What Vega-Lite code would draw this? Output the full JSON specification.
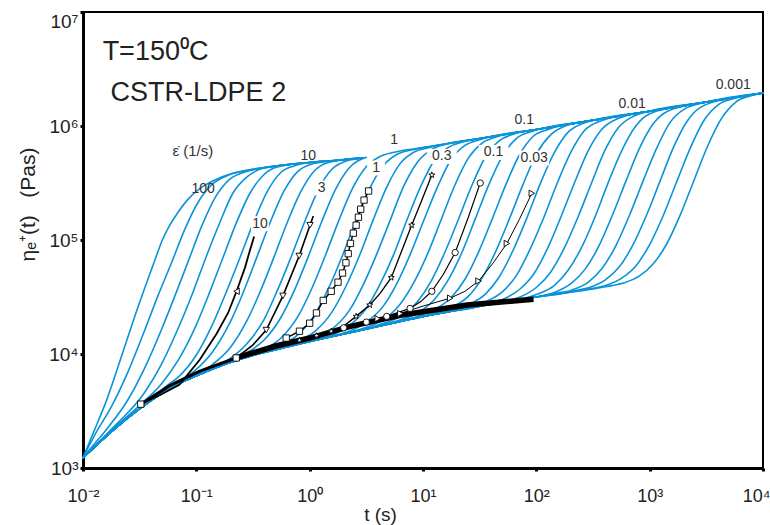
{
"$schema":"https://vega.github.io/schema/vega-lite/v6.json",
"width":680,"height":456,
"autosize":{"type":"none"},
"padding":{"left":83,"top":12,"right":7,"bottom":57},
"background":"white",
"config":{"view":{"stroke":"black","strokeWidth":2},"font":"Liberation Sans",
"axis":{"grid":false,"domainColor":"black","domainWidth":3,"tickColor":"black","tickWidth":3,"tickSize":3,"labelColor":"#222","titleColor":"#222","titleFontWeight":"normal","labelFont":"Liberation Sans","titleFont":"Liberation Sans"}},
"encoding":{
"x":{"field":"lt","type":"quantitative","scale":{"domain":[-2,4],"nice":false,"zero":false},
"axis":{"values":[-2,-1,0,1,2,3,4],"labelExpr":"datum.value == -2 ? '10⁻²' : datum.value == -1 ? '10⁻¹' : datum.value == 0 ? '10⁰' : datum.value == 1 ? '10¹' : datum.value == 2 ? '10²' : datum.value == 3 ? '10³' : '10⁴'","title":"t (s)","titleFontSize":19,"titleX":297,"titleY":52,"titleAlign":"center","titleBaseline":"alphabetic","labelFontSize":18,"labelPadding":16,"labelFlush":false,"labelOverlap":false,"labelBound":false,"labelOffset":{"condition":{"test":"datum.value == 4","value":-7},"value":0}}},
"y":{"field":"le","type":"quantitative","scale":{"domain":[3,7],"nice":false,"zero":false},
"axis":{"values":[3,4,5,6,7],"labelExpr":"datum.value == 3 ? '10³' : datum.value == 4 ? '10⁴' : datum.value == 5 ? '10⁵' : datum.value == 6 ? '10⁶' : '10⁷'","title":"ηₑ⁺(t)\u00a0\u00a0\u00a0(Pas)","titleFontSize":21,"titleX":-55,"titleY":192,"titleAngle":270,"titleAlign":"center","titleBaseline":"middle","labelFontSize":19,"labelPadding":2,"labelFlush":false,"labelOverlap":false,"labelOffset":{"condition":{"test":"datum.value == 7","value":9},"value":0}}}
},
"layer":[
{"data":{"values":[
{"c":0,"lt":-2,"le":3.09},{"c":0,"lt":-1.9,"le":3.33},{"c":0,"lt":-1.79,"le":3.6},{"c":0,"lt":-1.65,"le":4.01},{"c":0,"lt":-1.55,"le":4.31},{"c":0,"lt":-1.44,"le":4.62},{"c":0,"lt":-1.36,"le":4.84},{"c":0,"lt":-1.3,"le":5.0},{"c":0,"lt":-1.24,"le":5.12},{"c":0,"lt":-1.17,"le":5.23},{"c":0,"lt":-1.08,"le":5.35},{"c":0,"lt":-0.97,"le":5.45},{"c":0,"lt":-0.85,"le":5.52},{"c":0,"lt":-0.68,"le":5.585},{"c":0,"lt":-0.5,"le":5.62},{"c":0,"lt":-0.25,"le":5.655},{"c":0,"lt":0,"le":5.68},{"c":0,"lt":0.25,"le":5.7},{"c":0,"lt":0.47,"le":5.72},
{"c":1,"lt":-2,"le":3.09},{"c":1,"lt":-1.88,"le":3.32},{"c":1,"lt":-1.759,"le":3.52},{"c":1,"lt":-1.609,"le":3.83},{"c":1,"lt":-1.459,"le":4.2},{"c":1,"lt":-1.339,"le":4.51},{"c":1,"lt":-1.219,"le":4.8},{"c":1,"lt":-1.099,"le":5.1},{"c":1,"lt":-0.979,"le":5.34},{"c":1,"lt":-0.859,"le":5.49},{"c":1,"lt":-0.739,"le":5.56},{"c":1,"lt":-0.5,"le":5.62},{"c":1,"lt":-0.25,"le":5.655},{"c":1,"lt":0,"le":5.68},{"c":1,"lt":0.25,"le":5.7},{"c":1,"lt":0.47,"le":5.72},
{"c":2,"lt":-2,"le":3.09},{"c":2,"lt":-1.9,"le":3.21},{"c":2,"lt":-1.8,"le":3.33},{"c":2,"lt":-1.609,"le":3.59},{"c":2,"lt":-1.459,"le":3.87},{"c":2,"lt":-1.309,"le":4.21},{"c":2,"lt":-1.189,"le":4.51},{"c":2,"lt":-1.069,"le":4.82},{"c":2,"lt":-0.949,"le":5.13},{"c":2,"lt":-0.829,"le":5.38},{"c":2,"lt":-0.709,"le":5.53},{"c":2,"lt":-0.589,"le":5.59},{"c":2,"lt":-0.5,"le":5.615},{"c":2,"lt":-0.25,"le":5.655},{"c":2,"lt":0,"le":5.68},{"c":2,"lt":0.25,"le":5.7},{"c":2,"lt":0.47,"le":5.72},
{"c":3,"lt":-2,"le":3.09},{"c":3,"lt":-1.75,"le":3.34},{"c":3,"lt":-1.458,"le":3.66},{"c":3,"lt":-1.308,"le":3.91},{"c":3,"lt":-1.158,"le":4.23},{"c":3,"lt":-1.038,"le":4.52},{"c":3,"lt":-0.918,"le":4.84},{"c":3,"lt":-0.798,"le":5.14},{"c":3,"lt":-0.678,"le":5.41},{"c":3,"lt":-0.558,"le":5.55},{"c":3,"lt":-0.438,"le":5.62},{"c":3,"lt":-0.25,"le":5.655},{"c":3,"lt":0,"le":5.68},{"c":3,"lt":0.25,"le":5.7},{"c":3,"lt":0.47,"le":5.72},
{"c":4,"lt":-2,"le":3.09},{"c":4,"lt":-1.75,"le":3.33},{"c":4,"lt":-1.5,"le":3.55},{"c":4,"lt":-1.307,"le":3.74},{"c":4,"lt":-1.157,"le":3.95},{"c":4,"lt":-1.007,"le":4.24},{"c":4,"lt":-0.887,"le":4.53},{"c":4,"lt":-0.767,"le":4.84},{"c":4,"lt":-0.647,"le":5.15},{"c":4,"lt":-0.527,"le":5.41},{"c":4,"lt":-0.407,"le":5.57},{"c":4,"lt":-0.287,"le":5.64},{"c":4,"lt":0,"le":5.68},{"c":4,"lt":0.25,"le":5.7},{"c":4,"lt":0.47,"le":5.72},
{"c":5,"lt":-2,"le":3.09},{"c":5,"lt":-1.75,"le":3.32},{"c":5,"lt":-1.5,"le":3.52},{"c":5,"lt":-1.25,"le":3.73},{"c":5,"lt":-1.157,"le":3.8},{"c":5,"lt":-1.007,"le":3.98},{"c":5,"lt":-0.857,"le":4.26},{"c":5,"lt":-0.737,"le":4.54},{"c":5,"lt":-0.617,"le":4.84},{"c":5,"lt":-0.497,"le":5.15},{"c":5,"lt":-0.377,"le":5.42},{"c":5,"lt":-0.257,"le":5.59},{"c":5,"lt":-0.137,"le":5.65},{"c":5,"lt":0,"le":5.68},{"c":5,"lt":0.25,"le":5.7},{"c":5,"lt":0.47,"le":5.72},
{"c":6,"lt":-2,"le":3.09},{"c":6,"lt":-1.75,"le":3.32},{"c":6,"lt":-1.5,"le":3.52},{"c":6,"lt":-1.25,"le":3.69},{"c":6,"lt":-1.156,"le":3.75},{"c":6,"lt":-1.006,"le":3.86},{"c":6,"lt":-0.856,"le":4.02},{"c":6,"lt":-0.706,"le":4.27},{"c":6,"lt":-0.586,"le":4.54},{"c":6,"lt":-0.466,"le":4.85},{"c":6,"lt":-0.346,"le":5.16},{"c":6,"lt":-0.226,"le":5.43},{"c":6,"lt":-0.106,"le":5.6},{"c":6,"lt":0.014,"le":5.665},{"c":6,"lt":0.25,"le":5.7},{"c":6,"lt":0.47,"le":5.72},
{"c":7,"lt":-2,"le":3.09},{"c":7,"lt":-1.75,"le":3.32},{"c":7,"lt":-1.5,"le":3.52},{"c":7,"lt":-1.25,"le":3.69},{"c":7,"lt":-1.005,"le":3.82},{"c":7,"lt":-0.855,"le":3.91},{"c":7,"lt":-0.705,"le":4.05},{"c":7,"lt":-0.555,"le":4.29},{"c":7,"lt":-0.435,"le":4.55},{"c":7,"lt":-0.315,"le":4.85},{"c":7,"lt":-0.195,"le":5.16},{"c":7,"lt":-0.075,"le":5.43},{"c":7,"lt":0.045,"le":5.61},{"c":7,"lt":0.165,"le":5.68},{"c":7,"lt":0.47,"le":5.72},
{"c":8,"lt":-2,"le":3.09},{"c":8,"lt":-1.75,"le":3.32},{"c":8,"lt":-1.5,"le":3.52},{"c":8,"lt":-1.25,"le":3.69},{"c":8,"lt":-1,"le":3.81},{"c":8,"lt":-0.854,"le":3.88},{"c":8,"lt":-0.704,"le":3.96},{"c":8,"lt":-0.554,"le":4.09},{"c":8,"lt":-0.404,"le":4.3},{"c":8,"lt":-0.284,"le":4.56},{"c":8,"lt":-0.164,"le":4.85},{"c":8,"lt":-0.044,"le":5.16},{"c":8,"lt":0.076,"le":5.44},{"c":8,"lt":0.196,"le":5.62},{"c":8,"lt":0.316,"le":5.69},{"c":8,"lt":0.47,"le":5.72},
{"c":9,"lt":-2,"le":3.09},{"c":9,"lt":-1.75,"le":3.32},{"c":9,"lt":-1.5,"le":3.52},{"c":9,"lt":-1.25,"le":3.69},{"c":9,"lt":-1,"le":3.81},{"c":9,"lt":-0.75,"le":3.91},{"c":9,"lt":-0.554,"le":4.01},{"c":9,"lt":-0.404,"le":4.12},{"c":9,"lt":-0.254,"le":4.32},{"c":9,"lt":-0.134,"le":4.56},{"c":9,"lt":-0.014,"le":4.85},{"c":9,"lt":0.106,"le":5.16},{"c":9,"lt":0.226,"le":5.44},{"c":9,"lt":0.346,"le":5.63},{"c":9,"lt":0.5,"le":5.725},
{"c":10,"lt":-2,"le":3.09},{"c":10,"lt":-1.75,"le":3.32},{"c":10,"lt":-1.5,"le":3.52},{"c":10,"lt":-1.25,"le":3.69},{"c":10,"lt":-1,"le":3.81},{"c":10,"lt":-0.75,"le":3.91},{"c":10,"lt":-0.553,"le":3.98},{"c":10,"lt":-0.403,"le":4.04},{"c":10,"lt":-0.253,"le":4.14},{"c":10,"lt":-0.103,"le":4.33},{"c":10,"lt":0.017,"le":4.57},{"c":10,"lt":0.137,"le":4.86},{"c":10,"lt":0.257,"le":5.17},{"c":10,"lt":0.377,"le":5.45},{"c":10,"lt":0.497,"le":5.64},{"c":10,"lt":0.617,"le":5.73},{"c":10,"lt":0.747,"le":5.77},{"c":10,"lt":1,"le":5.81},{"c":10,"lt":1.5,"le":5.89},{"c":10,"lt":2,"le":5.97},{"c":10,"lt":2.5,"le":6.05},{"c":10,"lt":3,"le":6.13},{"c":10,"lt":3.5,"le":6.21},{"c":10,"lt":4,"le":6.29},
{"c":11,"lt":-2,"le":3.09},{"c":11,"lt":-1.75,"le":3.32},{"c":11,"lt":-1.5,"le":3.52},{"c":11,"lt":-1.25,"le":3.69},{"c":11,"lt":-1,"le":3.81},{"c":11,"lt":-0.75,"le":3.91},{"c":11,"lt":-0.5,"le":3.99},{"c":11,"lt":-0.402,"le":4.02},{"c":11,"lt":-0.252,"le":4.08},{"c":11,"lt":-0.102,"le":4.17},{"c":11,"lt":0.048,"le":4.35},{"c":11,"lt":0.168,"le":4.58},{"c":11,"lt":0.288,"le":4.86},{"c":11,"lt":0.408,"le":5.17},{"c":11,"lt":0.528,"le":5.45},{"c":11,"lt":0.648,"le":5.65},{"c":11,"lt":0.768,"le":5.75},{"c":11,"lt":0.898,"le":5.79},{"c":11,"lt":1,"le":5.81},{"c":11,"lt":1.5,"le":5.89},{"c":11,"lt":2,"le":5.97},{"c":11,"lt":2.5,"le":6.05},{"c":11,"lt":3,"le":6.13},{"c":11,"lt":3.5,"le":6.21},{"c":11,"lt":4,"le":6.29},
{"c":12,"lt":-2,"le":3.09},{"c":12,"lt":-1.75,"le":3.32},{"c":12,"lt":-1.5,"le":3.52},{"c":12,"lt":-1.25,"le":3.69},{"c":12,"lt":-1,"le":3.81},{"c":12,"lt":-0.75,"le":3.91},{"c":12,"lt":-0.5,"le":3.99},{"c":12,"lt":-0.25,"le":4.05},{"c":12,"lt":-0.102,"le":4.11},{"c":12,"lt":0.048,"le":4.2},{"c":12,"lt":0.198,"le":4.37},{"c":12,"lt":0.318,"le":4.59},{"c":12,"lt":0.438,"le":4.86},{"c":12,"lt":0.558,"le":5.17},{"c":12,"lt":0.678,"le":5.46},{"c":12,"lt":0.798,"le":5.67},{"c":12,"lt":0.918,"le":5.77},{"c":12,"lt":1.048,"le":5.81},{"c":12,"lt":1.5,"le":5.89},{"c":12,"lt":2,"le":5.97},{"c":12,"lt":2.5,"le":6.05},{"c":12,"lt":3,"le":6.13},{"c":12,"lt":3.5,"le":6.21},{"c":12,"lt":4,"le":6.29},
{"c":13,"lt":-2,"le":3.09},{"c":13,"lt":-1.75,"le":3.32},{"c":13,"lt":-1.5,"le":3.52},{"c":13,"lt":-1.25,"le":3.69},{"c":13,"lt":-1,"le":3.81},{"c":13,"lt":-0.75,"le":3.91},{"c":13,"lt":-0.5,"le":3.99},{"c":13,"lt":-0.25,"le":4.05},{"c":13,"lt":-0.101,"le":4.09},{"c":13,"lt":0.049,"le":4.14},{"c":13,"lt":0.199,"le":4.22},{"c":13,"lt":0.349,"le":4.38},{"c":13,"lt":0.469,"le":4.6},{"c":13,"lt":0.589,"le":4.87},{"c":13,"lt":0.709,"le":5.17},{"c":13,"lt":0.829,"le":5.47},{"c":13,"lt":0.949,"le":5.68},{"c":13,"lt":1.069,"le":5.79},{"c":13,"lt":1.199,"le":5.84},{"c":13,"lt":1.5,"le":5.89},{"c":13,"lt":2,"le":5.97},{"c":13,"lt":2.5,"le":6.05},{"c":13,"lt":3,"le":6.13},{"c":13,"lt":3.5,"le":6.21},{"c":13,"lt":4,"le":6.29},
{"c":14,"lt":-2,"le":3.09},{"c":14,"lt":-1.75,"le":3.32},{"c":14,"lt":-1.5,"le":3.52},{"c":14,"lt":-1.25,"le":3.69},{"c":14,"lt":-1,"le":3.81},{"c":14,"lt":-0.75,"le":3.91},{"c":14,"lt":-0.5,"le":3.99},{"c":14,"lt":-0.25,"le":4.05},{"c":14,"lt":0,"le":4.11},{"c":14,"lt":0.2,"le":4.17},{"c":14,"lt":0.35,"le":4.25},{"c":14,"lt":0.5,"le":4.4},{"c":14,"lt":0.62,"le":4.61},{"c":14,"lt":0.74,"le":4.87},{"c":14,"lt":0.86,"le":5.18},{"c":14,"lt":0.98,"le":5.47},{"c":14,"lt":1.1,"le":5.7},{"c":14,"lt":1.22,"le":5.81},{"c":14,"lt":1.35,"le":5.86},{"c":14,"lt":1.5,"le":5.89},{"c":14,"lt":2,"le":5.97},{"c":14,"lt":2.5,"le":6.05},{"c":14,"lt":3,"le":6.13},{"c":14,"lt":3.5,"le":6.21},{"c":14,"lt":4,"le":6.29},
{"c":15,"lt":-2,"le":3.09},{"c":15,"lt":-1.75,"le":3.32},{"c":15,"lt":-1.5,"le":3.52},{"c":15,"lt":-1.25,"le":3.69},{"c":15,"lt":-1,"le":3.81},{"c":15,"lt":-0.75,"le":3.91},{"c":15,"lt":-0.5,"le":3.99},{"c":15,"lt":-0.25,"le":4.05},{"c":15,"lt":0,"le":4.11},{"c":15,"lt":0.2,"le":4.16},{"c":15,"lt":0.35,"le":4.2},{"c":15,"lt":0.5,"le":4.28},{"c":15,"lt":0.65,"le":4.42},{"c":15,"lt":0.77,"le":4.62},{"c":15,"lt":0.89,"le":4.88},{"c":15,"lt":1.01,"le":5.18},{"c":15,"lt":1.13,"le":5.47},{"c":15,"lt":1.25,"le":5.71},{"c":15,"lt":1.37,"le":5.83},{"c":15,"lt":1.5,"le":5.88},{"c":15,"lt":2,"le":5.97},{"c":15,"lt":2.5,"le":6.05},{"c":15,"lt":3,"le":6.13},{"c":15,"lt":3.5,"le":6.21},{"c":15,"lt":4,"le":6.29},
{"c":16,"lt":-2,"le":3.09},{"c":16,"lt":-1.75,"le":3.32},{"c":16,"lt":-1.5,"le":3.52},{"c":16,"lt":-1.25,"le":3.69},{"c":16,"lt":-1,"le":3.81},{"c":16,"lt":-0.75,"le":3.91},{"c":16,"lt":-0.5,"le":3.99},{"c":16,"lt":-0.25,"le":4.05},{"c":16,"lt":0,"le":4.11},{"c":16,"lt":0.25,"le":4.165},{"c":16,"lt":0.351,"le":4.19},{"c":16,"lt":0.501,"le":4.235},{"c":16,"lt":0.651,"le":4.3},{"c":16,"lt":0.801,"le":4.44},{"c":16,"lt":0.921,"le":4.63},{"c":16,"lt":1.041,"le":4.88},{"c":16,"lt":1.161,"le":5.18},{"c":16,"lt":1.281,"le":5.48},{"c":16,"lt":1.401,"le":5.72},{"c":16,"lt":1.521,"le":5.85},{"c":16,"lt":1.651,"le":5.905},{"c":16,"lt":2,"le":5.97},{"c":16,"lt":2.5,"le":6.05},{"c":16,"lt":3,"le":6.13},{"c":16,"lt":3.5,"le":6.21},{"c":16,"lt":4,"le":6.29},
{"c":17,"lt":-2,"le":3.09},{"c":17,"lt":-1.75,"le":3.32},{"c":17,"lt":-1.5,"le":3.52},{"c":17,"lt":-1.25,"le":3.69},{"c":17,"lt":-1,"le":3.81},{"c":17,"lt":-0.75,"le":3.91},{"c":17,"lt":-0.5,"le":3.99},{"c":17,"lt":-0.25,"le":4.05},{"c":17,"lt":0,"le":4.11},{"c":17,"lt":0.25,"le":4.165},{"c":17,"lt":0.5,"le":4.22},{"c":17,"lt":0.652,"le":4.27},{"c":17,"lt":0.802,"le":4.33},{"c":17,"lt":0.952,"le":4.46},{"c":17,"lt":1.072,"le":4.64},{"c":17,"lt":1.192,"le":4.89},{"c":17,"lt":1.312,"le":5.18},{"c":17,"lt":1.432,"le":5.48},{"c":17,"lt":1.552,"le":5.73},{"c":17,"lt":1.672,"le":5.87},{"c":17,"lt":1.802,"le":5.93},{"c":17,"lt":2,"le":5.97},{"c":17,"lt":2.5,"le":6.05},{"c":17,"lt":3,"le":6.13},{"c":17,"lt":3.5,"le":6.21},{"c":17,"lt":4,"le":6.29},
{"c":18,"lt":-2,"le":3.09},{"c":18,"lt":-1.75,"le":3.32},{"c":18,"lt":-1.5,"le":3.52},{"c":18,"lt":-1.25,"le":3.69},{"c":18,"lt":-1,"le":3.81},{"c":18,"lt":-0.75,"le":3.91},{"c":18,"lt":-0.5,"le":3.99},{"c":18,"lt":-0.25,"le":4.05},{"c":18,"lt":0,"le":4.11},{"c":18,"lt":0.25,"le":4.165},{"c":18,"lt":0.5,"le":4.22},{"c":18,"lt":0.653,"le":4.26},{"c":18,"lt":0.803,"le":4.3},{"c":18,"lt":0.953,"le":4.36},{"c":18,"lt":1.103,"le":4.48},{"c":18,"lt":1.223,"le":4.65},{"c":18,"lt":1.343,"le":4.89},{"c":18,"lt":1.463,"le":5.19},{"c":18,"lt":1.583,"le":5.49},{"c":18,"lt":1.703,"le":5.74},{"c":18,"lt":1.823,"le":5.89},{"c":18,"lt":1.953,"le":5.95},{"c":18,"lt":2.5,"le":6.05},{"c":18,"lt":3,"le":6.13},{"c":18,"lt":3.5,"le":6.21},{"c":18,"lt":4,"le":6.29},
{"c":19,"lt":-2,"le":3.09},{"c":19,"lt":-1.75,"le":3.32},{"c":19,"lt":-1.5,"le":3.52},{"c":19,"lt":-1.25,"le":3.69},{"c":19,"lt":-1,"le":3.81},{"c":19,"lt":-0.75,"le":3.91},{"c":19,"lt":-0.5,"le":3.99},{"c":19,"lt":-0.25,"le":4.05},{"c":19,"lt":0,"le":4.11},{"c":19,"lt":0.25,"le":4.165},{"c":19,"lt":0.5,"le":4.22},{"c":19,"lt":0.75,"le":4.275},{"c":19,"lt":0.953,"le":4.33},{"c":19,"lt":1.103,"le":4.39},{"c":19,"lt":1.253,"le":4.5},{"c":19,"lt":1.373,"le":4.66},{"c":19,"lt":1.493,"le":4.9},{"c":19,"lt":1.613,"le":5.19},{"c":19,"lt":1.733,"le":5.49},{"c":19,"lt":1.853,"le":5.75},{"c":19,"lt":1.973,"le":5.91},{"c":19,"lt":2.103,"le":5.97},{"c":19,"lt":2.5,"le":6.05},{"c":19,"lt":3,"le":6.13},{"c":19,"lt":3.5,"le":6.21},{"c":19,"lt":4,"le":6.29},
{"c":20,"lt":-2,"le":3.09},{"c":20,"lt":-1.75,"le":3.32},{"c":20,"lt":-1.5,"le":3.52},{"c":20,"lt":-1.25,"le":3.69},{"c":20,"lt":-1,"le":3.81},{"c":20,"lt":-0.75,"le":3.91},{"c":20,"lt":-0.5,"le":3.99},{"c":20,"lt":-0.25,"le":4.05},{"c":20,"lt":0,"le":4.11},{"c":20,"lt":0.25,"le":4.165},{"c":20,"lt":0.5,"le":4.22},{"c":20,"lt":0.75,"le":4.275},{"c":20,"lt":1,"le":4.33},{"c":20,"lt":1.104,"le":4.36},{"c":20,"lt":1.254,"le":4.41},{"c":20,"lt":1.404,"le":4.51},{"c":20,"lt":1.524,"le":4.67},{"c":20,"lt":1.644,"le":4.905},{"c":20,"lt":1.764,"le":5.19},{"c":20,"lt":1.884,"le":5.49},{"c":20,"lt":2.004,"le":5.76},{"c":20,"lt":2.124,"le":5.92},{"c":20,"lt":2.254,"le":6},{"c":20,"lt":2.5,"le":6.05},{"c":20,"lt":3,"le":6.13},{"c":20,"lt":3.5,"le":6.21},{"c":20,"lt":4,"le":6.29},
{"c":21,"lt":-2,"le":3.09},{"c":21,"lt":-1.75,"le":3.32},{"c":21,"lt":-1.5,"le":3.52},{"c":21,"lt":-1.25,"le":3.69},{"c":21,"lt":-1,"le":3.81},{"c":21,"lt":-0.75,"le":3.91},{"c":21,"lt":-0.5,"le":3.99},{"c":21,"lt":-0.25,"le":4.05},{"c":21,"lt":0,"le":4.11},{"c":21,"lt":0.25,"le":4.165},{"c":21,"lt":0.5,"le":4.22},{"c":21,"lt":0.75,"le":4.275},{"c":21,"lt":1,"le":4.33},{"c":21,"lt":1.255,"le":4.385},{"c":21,"lt":1.405,"le":4.435},{"c":21,"lt":1.555,"le":4.53},{"c":21,"lt":1.675,"le":4.68},{"c":21,"lt":1.795,"le":4.91},{"c":21,"lt":1.915,"le":5.19},{"c":21,"lt":2.035,"le":5.495},{"c":21,"lt":2.155,"le":5.76},{"c":21,"lt":2.275,"le":5.94},{"c":21,"lt":2.405,"le":6.02},{"c":21,"lt":3,"le":6.13},{"c":21,"lt":3.5,"le":6.21},{"c":21,"lt":4,"le":6.29},
{"c":22,"lt":-2,"le":3.09},{"c":22,"lt":-1.75,"le":3.32},{"c":22,"lt":-1.5,"le":3.52},{"c":22,"lt":-1.25,"le":3.69},{"c":22,"lt":-1,"le":3.81},{"c":22,"lt":-0.75,"le":3.91},{"c":22,"lt":-0.5,"le":3.99},{"c":22,"lt":-0.25,"le":4.05},{"c":22,"lt":0,"le":4.11},{"c":22,"lt":0.25,"le":4.165},{"c":22,"lt":0.5,"le":4.22},{"c":22,"lt":0.75,"le":4.275},{"c":22,"lt":1,"le":4.33},{"c":22,"lt":1.25,"le":4.375},{"c":22,"lt":1.405,"le":4.41},{"c":22,"lt":1.555,"le":4.46},{"c":22,"lt":1.705,"le":4.55},{"c":22,"lt":1.825,"le":4.69},{"c":22,"lt":1.945,"le":4.92},{"c":22,"lt":2.065,"le":5.195},{"c":22,"lt":2.185,"le":5.5},{"c":22,"lt":2.305,"le":5.77},{"c":22,"lt":2.425,"le":5.96},{"c":22,"lt":2.555,"le":6.04},{"c":22,"lt":3,"le":6.13},{"c":22,"lt":3.5,"le":6.21},{"c":22,"lt":4,"le":6.29},
{"c":23,"lt":-2,"le":3.09},{"c":23,"lt":-1.75,"le":3.32},{"c":23,"lt":-1.5,"le":3.52},{"c":23,"lt":-1.25,"le":3.69},{"c":23,"lt":-1,"le":3.81},{"c":23,"lt":-0.75,"le":3.91},{"c":23,"lt":-0.5,"le":3.99},{"c":23,"lt":-0.25,"le":4.05},{"c":23,"lt":0,"le":4.11},{"c":23,"lt":0.25,"le":4.165},{"c":23,"lt":0.5,"le":4.22},{"c":23,"lt":0.75,"le":4.275},{"c":23,"lt":1,"le":4.33},{"c":23,"lt":1.25,"le":4.375},{"c":23,"lt":1.5,"le":4.42},{"c":23,"lt":1.556,"le":4.44},{"c":23,"lt":1.706,"le":4.48},{"c":23,"lt":1.856,"le":4.57},{"c":23,"lt":1.976,"le":4.7},{"c":23,"lt":2.096,"le":4.92},{"c":23,"lt":2.216,"le":5.2},{"c":23,"lt":2.336,"le":5.5},{"c":23,"lt":2.456,"le":5.78},{"c":23,"lt":2.576,"le":5.97},{"c":23,"lt":2.706,"le":6.06},{"c":23,"lt":3,"le":6.13},{"c":23,"lt":3.5,"le":6.21},{"c":23,"lt":4,"le":6.29},
{"c":24,"lt":-2,"le":3.09},{"c":24,"lt":-1.75,"le":3.32},{"c":24,"lt":-1.5,"le":3.52},{"c":24,"lt":-1.25,"le":3.69},{"c":24,"lt":-1,"le":3.81},{"c":24,"lt":-0.75,"le":3.91},{"c":24,"lt":-0.5,"le":3.99},{"c":24,"lt":-0.25,"le":4.05},{"c":24,"lt":0,"le":4.11},{"c":24,"lt":0.25,"le":4.165},{"c":24,"lt":0.5,"le":4.22},{"c":24,"lt":0.75,"le":4.275},{"c":24,"lt":1,"le":4.33},{"c":24,"lt":1.25,"le":4.375},{"c":24,"lt":1.5,"le":4.42},{"c":24,"lt":1.707,"le":4.46},{"c":24,"lt":1.857,"le":4.5},{"c":24,"lt":2.007,"le":4.59},{"c":24,"lt":2.127,"le":4.72},{"c":24,"lt":2.247,"le":4.93},{"c":24,"lt":2.367,"le":5.2},{"c":24,"lt":2.487,"le":5.5},{"c":24,"lt":2.607,"le":5.79},{"c":24,"lt":2.727,"le":5.99},{"c":24,"lt":2.857,"le":6.085},{"c":24,"lt":3,"le":6.13},{"c":24,"lt":3.5,"le":6.21},{"c":24,"lt":4,"le":6.29},
{"c":25,"lt":-2,"le":3.09},{"c":25,"lt":-1.75,"le":3.32},{"c":25,"lt":-1.5,"le":3.52},{"c":25,"lt":-1.25,"le":3.69},{"c":25,"lt":-1,"le":3.81},{"c":25,"lt":-0.75,"le":3.91},{"c":25,"lt":-0.5,"le":3.99},{"c":25,"lt":-0.25,"le":4.05},{"c":25,"lt":0,"le":4.11},{"c":25,"lt":0.25,"le":4.165},{"c":25,"lt":0.5,"le":4.22},{"c":25,"lt":0.75,"le":4.275},{"c":25,"lt":1,"le":4.33},{"c":25,"lt":1.25,"le":4.375},{"c":25,"lt":1.5,"le":4.42},{"c":25,"lt":1.75,"le":4.46},{"c":25,"lt":1.857,"le":4.48},{"c":25,"lt":2.007,"le":4.525},{"c":25,"lt":2.157,"le":4.6},{"c":25,"lt":2.277,"le":4.73},{"c":25,"lt":2.397,"le":4.93},{"c":25,"lt":2.517,"le":5.2},{"c":25,"lt":2.637,"le":5.51},{"c":25,"lt":2.757,"le":5.79},{"c":25,"lt":2.877,"le":6},{"c":25,"lt":3.007,"le":6.11},{"c":25,"lt":3.5,"le":6.21},{"c":25,"lt":4,"le":6.29},
{"c":26,"lt":-2,"le":3.09},{"c":26,"lt":-1.75,"le":3.32},{"c":26,"lt":-1.5,"le":3.52},{"c":26,"lt":-1.25,"le":3.69},{"c":26,"lt":-1,"le":3.81},{"c":26,"lt":-0.75,"le":3.91},{"c":26,"lt":-0.5,"le":3.99},{"c":26,"lt":-0.25,"le":4.05},{"c":26,"lt":0,"le":4.11},{"c":26,"lt":0.25,"le":4.165},{"c":26,"lt":0.5,"le":4.22},{"c":26,"lt":0.75,"le":4.275},{"c":26,"lt":1,"le":4.33},{"c":26,"lt":1.25,"le":4.375},{"c":26,"lt":1.5,"le":4.42},{"c":26,"lt":1.75,"le":4.46},{"c":26,"lt":2,"le":4.5},{"c":26,"lt":2.158,"le":4.54},{"c":26,"lt":2.308,"le":4.62},{"c":26,"lt":2.428,"le":4.74},{"c":26,"lt":2.548,"le":4.94},{"c":26,"lt":2.668,"le":5.21},{"c":26,"lt":2.788,"le":5.51},{"c":26,"lt":2.908,"le":5.8},{"c":26,"lt":3.028,"le":6.015},{"c":26,"lt":3.158,"le":6.13},{"c":26,"lt":3.5,"le":6.21},{"c":26,"lt":4,"le":6.29},
{"c":27,"lt":-2,"le":3.09},{"c":27,"lt":-1.75,"le":3.32},{"c":27,"lt":-1.5,"le":3.52},{"c":27,"lt":-1.25,"le":3.69},{"c":27,"lt":-1,"le":3.81},{"c":27,"lt":-0.75,"le":3.91},{"c":27,"lt":-0.5,"le":3.99},{"c":27,"lt":-0.25,"le":4.05},{"c":27,"lt":0,"le":4.11},{"c":27,"lt":0.25,"le":4.165},{"c":27,"lt":0.5,"le":4.22},{"c":27,"lt":0.75,"le":4.275},{"c":27,"lt":1,"le":4.33},{"c":27,"lt":1.25,"le":4.375},{"c":27,"lt":1.5,"le":4.42},{"c":27,"lt":1.75,"le":4.46},{"c":27,"lt":2,"le":4.5},{"c":27,"lt":2.159,"le":4.53},{"c":27,"lt":2.309,"le":4.56},{"c":27,"lt":2.459,"le":4.63},{"c":27,"lt":2.579,"le":4.75},{"c":27,"lt":2.699,"le":4.945},{"c":27,"lt":2.819,"le":5.21},{"c":27,"lt":2.939,"le":5.51},{"c":27,"lt":3.059,"le":5.8},{"c":27,"lt":3.179,"le":6.03},{"c":27,"lt":3.309,"le":6.15},{"c":27,"lt":3.5,"le":6.21},{"c":27,"lt":4,"le":6.29},
{"c":28,"lt":-2,"le":3.09},{"c":28,"lt":-1.75,"le":3.32},{"c":28,"lt":-1.5,"le":3.52},{"c":28,"lt":-1.25,"le":3.69},{"c":28,"lt":-1,"le":3.81},{"c":28,"lt":-0.75,"le":3.91},{"c":28,"lt":-0.5,"le":3.99},{"c":28,"lt":-0.25,"le":4.05},{"c":28,"lt":0,"le":4.11},{"c":28,"lt":0.25,"le":4.165},{"c":28,"lt":0.5,"le":4.22},{"c":28,"lt":0.75,"le":4.275},{"c":28,"lt":1,"le":4.33},{"c":28,"lt":1.25,"le":4.375},{"c":28,"lt":1.5,"le":4.42},{"c":28,"lt":1.75,"le":4.46},{"c":28,"lt":2,"le":4.5},{"c":28,"lt":2.25,"le":4.535},{"c":28,"lt":2.309,"le":4.55},{"c":28,"lt":2.459,"le":4.58},{"c":28,"lt":2.609,"le":4.65},{"c":28,"lt":2.729,"le":4.76},{"c":28,"lt":2.849,"le":4.95},{"c":28,"lt":2.969,"le":5.21},{"c":28,"lt":3.089,"le":5.51},{"c":28,"lt":3.209,"le":5.81},{"c":28,"lt":3.329,"le":6.04},{"c":28,"lt":3.459,"le":6.17},{"c":28,"lt":3.75,"le":6.25},{"c":28,"lt":4,"le":6.29},
{"c":29,"lt":-2,"le":3.09},{"c":29,"lt":-1.75,"le":3.32},{"c":29,"lt":-1.5,"le":3.52},{"c":29,"lt":-1.25,"le":3.69},{"c":29,"lt":-1,"le":3.81},{"c":29,"lt":-0.75,"le":3.91},{"c":29,"lt":-0.5,"le":3.99},{"c":29,"lt":-0.25,"le":4.05},{"c":29,"lt":0,"le":4.11},{"c":29,"lt":0.25,"le":4.165},{"c":29,"lt":0.5,"le":4.22},{"c":29,"lt":0.75,"le":4.275},{"c":29,"lt":1,"le":4.33},{"c":29,"lt":1.25,"le":4.375},{"c":29,"lt":1.5,"le":4.42},{"c":29,"lt":1.75,"le":4.46},{"c":29,"lt":2,"le":4.5},{"c":29,"lt":2.25,"le":4.535},{"c":29,"lt":2.46,"le":4.57},{"c":29,"lt":2.61,"le":4.6},{"c":29,"lt":2.76,"le":4.67},{"c":29,"lt":2.88,"le":4.775},{"c":29,"lt":3,"le":4.96},{"c":29,"lt":3.12,"le":5.215},{"c":29,"lt":3.24,"le":5.515},{"c":29,"lt":3.36,"le":5.81},{"c":29,"lt":3.48,"le":6.05},{"c":29,"lt":3.61,"le":6.19},{"c":29,"lt":3.76,"le":6.245},{"c":29,"lt":4,"le":6.29},
{"c":30,"lt":-2,"le":3.09},{"c":30,"lt":-1.75,"le":3.32},{"c":30,"lt":-1.5,"le":3.52},{"c":30,"lt":-1.25,"le":3.69},{"c":30,"lt":-1,"le":3.81},{"c":30,"lt":-0.75,"le":3.91},{"c":30,"lt":-0.5,"le":3.99},{"c":30,"lt":-0.25,"le":4.05},{"c":30,"lt":0,"le":4.11},{"c":30,"lt":0.25,"le":4.165},{"c":30,"lt":0.5,"le":4.22},{"c":30,"lt":0.75,"le":4.275},{"c":30,"lt":1,"le":4.33},{"c":30,"lt":1.25,"le":4.375},{"c":30,"lt":1.5,"le":4.42},{"c":30,"lt":1.75,"le":4.46},{"c":30,"lt":2,"le":4.5},{"c":30,"lt":2.25,"le":4.535},{"c":30,"lt":2.5,"le":4.57},{"c":30,"lt":2.61,"le":4.59},{"c":30,"lt":2.76,"le":4.62},{"c":30,"lt":2.91,"le":4.685},{"c":30,"lt":3.03,"le":4.79},{"c":30,"lt":3.15,"le":4.965},{"c":30,"lt":3.27,"le":5.22},{"c":30,"lt":3.39,"le":5.52},{"c":30,"lt":3.51,"le":5.82},{"c":30,"lt":3.63,"le":6.06},{"c":30,"lt":3.76,"le":6.21},{"c":30,"lt":3.91,"le":6.27},{"c":30,"lt":4,"le":6.29}
]},
"mark":{"type":"line","interpolate":"monotone","color":"#0a93da","strokeWidth":1.6,"strokeCap":"round","strokeJoin":"round"},
"encoding":{"detail":{"field":"c","type":"nominal"}}},
{"data":{"values":[
{"label":"10","lt":-0.439,"le":5.143},{"label":"3","lt":0.106,"le":5.456},{"label":"1","lt":0.586,"le":5.632}
]},
"mark":{"type":"point","shape":"M-0.6,-0.5L0.6,-0.5L0.6,0.5L-0.6,0.5Z","size":900,"filled":true,"color":"white","opacity":1,"strokeWidth":0},
"encoding":{}},
{"data":{"values":[
{"label":"0.3","lt":1.166,"le":5.733},{"label":"0.1","lt":1.622,"le":5.768},{"label":"0.03","lt":1.981,"le":5.719}
]},
"mark":{"type":"point","shape":"M-1,-0.5L1,-0.5L1,0.5L-1,0.5Z","size":900,"filled":true,"color":"white","opacity":1,"strokeWidth":0},
"encoding":{}},
{"data":{"values":[
{"lt":-1.49,"le":3.56},{"lt":-1.24,"le":3.72},{"lt":-0.97,"le":3.85},{"lt":-0.65,"le":3.965},{"lt":-0.3,"le":4.07},{"lt":0,"le":4.14},{"lt":0.35,"le":4.24},{"lt":0.8,"le":4.34},{"lt":1.39,"le":4.43},{"lt":1.975,"le":4.48}
]},
"transform":[{"filter":"datum.lt <= -0.65"}],
"mark":{"type":"line","color":"black","strokeWidth":3,"strokeCap":"butt"},
"encoding":{}},
{"data":{"values":[
{"lt":-1.49,"le":3.56},{"lt":-1.24,"le":3.72},{"lt":-0.97,"le":3.85},{"lt":-0.65,"le":3.965},{"lt":-0.3,"le":4.07},{"lt":0,"le":4.14},{"lt":0.35,"le":4.24},{"lt":0.8,"le":4.34},{"lt":1.39,"le":4.43},{"lt":1.975,"le":4.48}
]},
"transform":[{"filter":"datum.lt >= -0.65"}],
"mark":{"type":"line","color":"black","strokeWidth":5.5,"strokeCap":"butt"},
"encoding":{}},
{"data":{"values":[
{"s":"10","lt":-1.49,"le":3.56},{"s":"10","lt":-1.32,"le":3.64},{"s":"10","lt":-1.15,"le":3.73},{"s":"10","lt":-0.97,"le":3.95},{"s":"10","lt":-0.82,"le":4.18},{"s":"10","lt":-0.72,"le":4.36},{"s":"10","lt":-0.645,"le":4.55},{"s":"10","lt":-0.57,"le":4.76},{"s":"10","lt":-0.53,"le":4.9},{"s":"10","lt":-0.49,"le":5.03},
{"s":"3","lt":-0.648,"le":3.965},{"s":"3","lt":-0.5,"le":4.08},{"s":"3","lt":-0.383,"le":4.21},{"s":"3","lt":-0.236,"le":4.51},{"s":"3","lt":-0.093,"le":4.86},{"s":"3","lt":0.003,"le":5.13},{"s":"3","lt":0.032,"le":5.21},
{"s":"1","lt":-0.207,"le":4.14},{"s":"1","lt":-0.09,"le":4.2},{"s":"1","lt":0,"le":4.27},{"s":"1","lt":0.06,"le":4.36},{"s":"1","lt":0.12,"le":4.47},{"s":"1","lt":0.19,"le":4.55},{"s":"1","lt":0.25,"le":4.63},{"s":"1","lt":0.29,"le":4.71},{"s":"1","lt":0.32,"le":4.8},{"s":"1","lt":0.34,"le":4.88},{"s":"1","lt":0.36,"le":4.97},{"s":"1","lt":0.385,"le":5.06},{"s":"1","lt":0.41,"le":5.13},{"s":"1","lt":0.43,"le":5.2},{"s":"1","lt":0.45,"le":5.27},{"s":"1","lt":0.48,"le":5.35},{"s":"1","lt":0.52,"le":5.43},
{"s":"0.3","lt":-0.09,"le":4.12},{"s":"0.3","lt":0.06,"le":4.16},{"s":"0.3","lt":0.19,"le":4.2},{"s":"0.3","lt":0.294,"le":4.24},{"s":"0.3","lt":0.41,"le":4.33},{"s":"0.3","lt":0.53,"le":4.43},{"s":"0.3","lt":0.62,"le":4.53},{"s":"0.3","lt":0.72,"le":4.67},{"s":"0.3","lt":0.81,"le":4.9},{"s":"0.3","lt":0.9,"le":5.13},{"s":"0.3","lt":0.99,"le":5.35},{"s":"0.3","lt":1.078,"le":5.57},
{"s":"0.1","lt":0.3,"le":4.23},{"s":"0.1","lt":0.5,"le":4.28},{"s":"0.1","lt":0.68,"le":4.33},{"s":"0.1","lt":0.886,"le":4.4},{"s":"0.1","lt":0.98,"le":4.46},{"s":"0.1","lt":1.078,"le":4.55},{"s":"0.1","lt":1.18,"le":4.7},{"s":"0.1","lt":1.284,"le":4.89},{"s":"0.1","lt":1.4,"le":5.2},{"s":"0.1","lt":1.505,"le":5.5},
{"s":"0.03","lt":0.6,"le":4.31},{"s":"0.03","lt":0.8,"le":4.355},{"s":"0.03","lt":1,"le":4.42},{"s":"0.03","lt":1.24,"le":4.49},{"s":"0.03","lt":1.37,"le":4.55},{"s":"0.03","lt":1.49,"le":4.64},{"s":"0.03","lt":1.62,"le":4.8},{"s":"0.03","lt":1.74,"le":4.97},{"s":"0.03","lt":1.85,"le":5.18},{"s":"0.03","lt":1.96,"le":5.41}
]},
"mark":{"type":"line","color":"black"},
"encoding":{"detail":{"field":"s","type":"nominal"},"strokeWidth":{"field":"s","type":"nominal","scale":{"domain":["10","3","1","0.3","0.1","0.03"],"range":[1.8,1,1,1,1,1]},"legend":null}}},
{"data":{"values":[
{"s":"lve","lt":-1.49,"le":3.56},{"s":"lve","lt":-0.648,"le":3.965},
{"s":"10","lt":-0.645,"le":4.55},
{"s":"3","lt":-0.383,"le":4.21},{"s":"3","lt":-0.236,"le":4.51},{"s":"3","lt":-0.093,"le":4.86},{"s":"3","lt":0.003,"le":5.13},
{"s":"1","lt":-0.207,"le":4.14},{"s":"1","lt":-0.09,"le":4.2},{"s":"1","lt":0,"le":4.27},{"s":"1","lt":0.06,"le":4.36},{"s":"1","lt":0.12,"le":4.47},{"s":"1","lt":0.19,"le":4.55},{"s":"1","lt":0.25,"le":4.63},{"s":"1","lt":0.29,"le":4.71},{"s":"1","lt":0.32,"le":4.8},{"s":"1","lt":0.34,"le":4.88},{"s":"1","lt":0.36,"le":4.97},{"s":"1","lt":0.385,"le":5.06},{"s":"1","lt":0.41,"le":5.13},{"s":"1","lt":0.43,"le":5.2},{"s":"1","lt":0.45,"le":5.27},{"s":"1","lt":0.48,"le":5.35},{"s":"1","lt":0.52,"le":5.43},
{"s":"0.3","lt":-0.09,"le":4.12},{"s":"0.3","lt":0.06,"le":4.16},{"s":"0.3","lt":0.19,"le":4.2},{"s":"0.3","lt":0.41,"le":4.33},{"s":"0.3","lt":0.53,"le":4.43},{"s":"0.3","lt":0.72,"le":4.67},{"s":"0.3","lt":0.9,"le":5.13},{"s":"0.3","lt":1.078,"le":5.57},
{"s":"0.1","lt":0.3,"le":4.23},{"s":"0.1","lt":0.5,"le":4.28},{"s":"0.1","lt":0.68,"le":4.33},{"s":"0.1","lt":0.886,"le":4.4},{"s":"0.1","lt":1.078,"le":4.55},{"s":"0.1","lt":1.284,"le":4.89},{"s":"0.1","lt":1.505,"le":5.5},
{"s":"0.03","lt":0.6,"le":4.31},{"s":"0.03","lt":0.8,"le":4.355},{"s":"0.03","lt":1.24,"le":4.49},{"s":"0.03","lt":1.49,"le":4.64},{"s":"0.03","lt":1.74,"le":4.97},{"s":"0.03","lt":1.96,"le":5.41}
]},
"mark":{"type":"point","filled":true,"fill":"white","stroke":"black","strokeWidth":0.9,"size":40,"opacity":1},
"encoding":{"shape":{"field":"s","type":"nominal","scale":{"domain":["lve","10","3","1","0.3","0.1","0.03"],"range":["square","triangle-left","triangle-down","square","M0,-1L0.235,-0.324L0.951,-0.309L0.38,0.124L0.588,0.809L0,0.4L-0.588,0.809L-0.38,0.124L-0.951,-0.309L-0.235,-0.324Z","circle","triangle-right"]},"legend":null}}},
{"data":{"values":[
{"label":"T=150⁰C","lt":-1.36,"le":6.652},{"label":"CSTR-LDPE 2","lt":-0.982,"le":6.292}
]},
"mark":{"type":"text","fontSize":27,"color":"#222","align":"center","baseline":"middle","font":"Liberation Sans"},
"encoding":{"text":{"field":"label","type":"nominal"}}},
{"data":{"values":[
{"label":"ε̇ (1/s)","lt":-1.031,"le":5.783}
]},
"mark":{"type":"text","fontSize":15,"color":"#333","align":"center","baseline":"middle","font":"Liberation Sans"},
"encoding":{"text":{"field":"label","type":"nominal"}}},
{"data":{"values":[
{"label":"100","lt":-0.94,"le":5.447},{"label":"10","lt":-0.012,"le":5.733},{"label":"1","lt":0.745,"le":5.875},{"label":"0.1","lt":1.893,"le":6.049},{"label":"0.01","lt":2.845,"le":6.193},{"label":"0.001","lt":3.737,"le":6.362},
{"label":"10","lt":-0.439,"le":5.143},{"label":"3","lt":0.106,"le":5.456},{"label":"1","lt":0.586,"le":5.632},{"label":"0.3","lt":1.166,"le":5.733},{"label":"0.1","lt":1.622,"le":5.768},{"label":"0.03","lt":1.981,"le":5.719}
]},
"mark":{"type":"text","fontSize":14,"color":"#333","align":"center","baseline":"middle","font":"Liberation Sans"},
"encoding":{"text":{"field":"label","type":"nominal"}}}
]
}
